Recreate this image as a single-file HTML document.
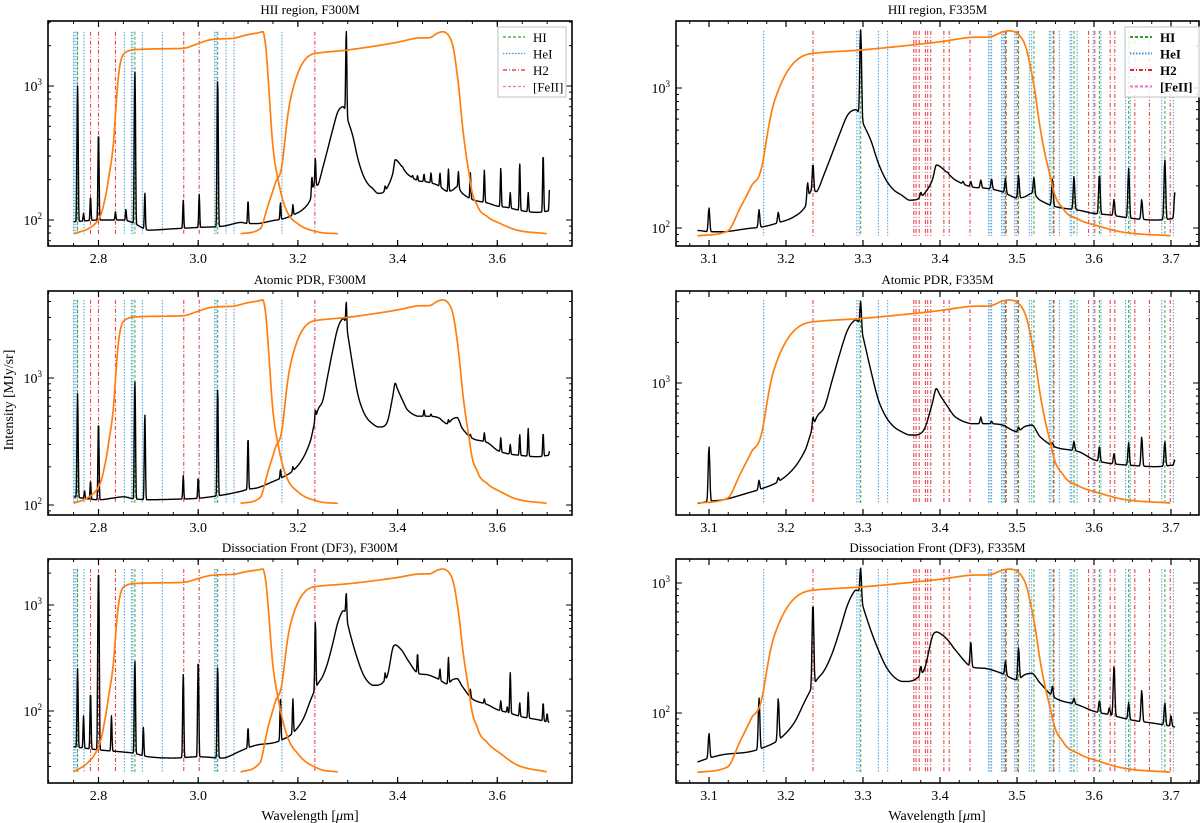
<!DOCTYPE html>
<html><head><meta charset="utf-8">
<style>
html,body{margin:0;padding:0;background:#fff;}
svg{display:block;font-family:"Liberation Serif",serif;}
</style></head>
<body>
<svg id="fig" width="1200" height="823" viewBox="0 0 1200 823" xmlns="http://www.w3.org/2000/svg">
<text x="13" y="400" font-size="14" text-anchor="middle" transform="rotate(-90 13 400)">Intensity [MJy/sr]</text>
</svg>
<script>
// ---- data ----
const contWl = [2.75,2.80,2.85,2.87,2.90,2.95,3.0,3.05,3.085,3.1,3.12,3.15,3.17,3.19,3.21,3.225,3.232,3.24,3.25,3.26,3.27,3.28,3.29,3.295,3.30,3.31,3.32,3.33,3.34,3.35,3.36,3.37,3.38,3.39,3.395,3.40,3.41,3.42,3.44,3.46,3.48,3.50,3.51,3.52,3.53,3.55,3.58,3.60,3.62,3.65,3.68,3.705];
const contHII = [97,100,100,95,84,86,88,90,96,94,94,99,102,109,120,142,182,182,246,341,475,640,700,660,560,425,290,220,187,172,158,160,177,220,282,275,246,220,197,192,182,163,167,177,158,142,134,127,124,117,114,117];
const contPDR = [116,110,116,112,110,111,113,120,128,133,137,153,166,186,233,319,420,560,667,1050,1660,2470,2930,2770,2200,1250,750,560,475,436,412,412,460,707,910,815,667,560,500,500,490,436,475,488,400,335,310,270,254,245,240,247];
const contDF3 = [46,43,41,40,37,36,37,36,42,45,48,50,54,62,83,125,150,180,214,288,435,680,880,860,660,435,305,227,190,175,175,185,220,387,420,410,365,305,227,220,202,180,197,202,170,130,115,103,97,88,83,78];

const lineWlHII = [2.758,2.770,2.784,2.800,2.834,2.855,2.873,2.893,2.970,3.002,3.039,3.100,3.165,3.190,3.228,3.235,3.297,3.375,3.385,3.405,3.410,3.420,3.430,3.440,3.453,3.467,3.485,3.502,3.522,3.546,3.574,3.607,3.626,3.645,3.662,3.692,3.705];
const linePkHII = [1000,112,150,450,115,120,1300,160,140,155,1100,140,135,130,210,290,2600,180,185,260,250,220,215,215,220,225,225,240,230,225,235,245,160,265,160,310,180];
const lineWlPDR = [2.758,2.772,2.784,2.800,2.873,2.893,2.970,3.000,3.039,3.100,3.165,3.190,3.235,3.297,3.405,3.453,3.467,3.485,3.502,3.546,3.574,3.607,3.626,3.645,3.662,3.692,3.705];
const linePkPDR = [750,130,155,450,950,520,170,165,820,340,190,200,560,4000,700,560,520,480,470,360,370,340,300,360,400,370,270];
const lineWlDF3 = [2.758,2.770,2.784,2.800,2.826,2.873,2.890,2.970,3.000,3.039,3.100,3.165,3.190,3.235,3.297,3.375,3.440,3.485,3.502,3.546,3.574,3.607,3.620,3.626,3.645,3.662,3.692,3.700];
const linePkDF3 = [250,90,150,2100,90,300,70,220,300,260,70,130,130,700,1300,230,350,250,320,160,130,125,110,230,120,150,120,95];

const f300Wl = [2.75,2.78,2.80,2.81,2.82,2.83,2.835,2.84,2.845,2.85,2.86,2.87,2.90,2.95,2.975,3.0,3.02,3.04,3.07,3.10,3.12,3.13,3.135,3.14,3.145,3.15,3.16,3.175,3.20,3.24,3.28];
const f300T = [0,0.003,0.009,0.02,0.05,0.12,0.25,0.45,0.6,0.67,0.71,0.725,0.735,0.74,0.75,0.81,0.86,0.88,0.89,0.95,0.98,1.0,0.8,0.45,0.22,0.11,0.05,0.018,0.006,0.001,0];
const f335Wl = [3.085,3.125,3.14,3.155,3.17,3.185,3.205,3.22,3.236,3.297,3.35,3.40,3.44,3.465,3.48,3.49,3.50,3.51,3.52,3.53,3.545,3.56,3.58,3.60,3.64,3.70];
const f335T = [0,0.003,0.02,0.045,0.085,0.29,0.53,0.64,0.68,0.72,0.77,0.83,0.895,0.9,0.975,1.0,0.96,0.8,0.45,0.175,0.05,0.02,0.011,0.007,0.002,0];

const leftHeI = [2.750,2.753,2.757,2.771,2.852,2.866,2.869,2.888,2.928,3.033,3.036,3.056,3.072,3.168];
const leftHI = [2.758,2.873,3.039];
const leftH2 = [2.784,2.800,2.834,2.971,3.002,3.234];
const rightHeI = [3.171,3.292,3.295,3.320,3.332,3.463,3.465,3.467,3.480,3.482,3.484,3.497,3.499,3.516,3.519,3.542,3.544,3.555,3.569,3.571,3.578,3.599,3.609,3.641,3.647,3.688,3.703];
const rightHI = [3.297,3.485,3.502,3.522,3.547,3.574,3.607,3.645,3.692];
const rightH2 = [3.235,3.366,3.369,3.373,3.381,3.384,3.388,3.405,3.412,3.439,3.486,3.501,3.548,3.593,3.601,3.621,3.627,3.653,3.672,3.699];

const xTicksLeft = [2.8,3.0,3.2,3.4,3.6];
const xTickLabelsLeft = ["2.8","3.0","3.2","3.4","3.6"];
const xTicksRight = [3.1,3.2,3.3,3.4,3.5,3.6,3.7];
const xTickLabelsRight = ["3.1","3.2","3.3","3.4","3.5","3.6","3.7"];
const titles = ["HII region, F300M","HII region, F335M","Atomic PDR, F300M","Atomic PDR, F335M","Dissociation Front (DF3), F300M","Dissociation Front (DF3), F335M"];

// ---- layout ----
const NS="http://www.w3.org/2000/svg";
const svg=document.getElementById('fig');
function mk(tag,attrs,parent){const e=document.createElementNS(NS,tag);for(const k in attrs)e.setAttribute(k,attrs[k]);(parent||svg).appendChild(e);return e;}

const rows=[
 {y0:21,y1:246,L:{y1000:86,dec:134,lo:79,hi:2540},R:{y1000:88,dec:140,lo:88,hi:2560},cont:contHII,lw:lineWlHII,lp:linePkHII,name:'hii'},
 {y0:291,y1:515,L:{y1000:378,dec:127,lo:103,hi:4120},R:{y1000:383,dec:135,lo:129,hi:4120},cont:contPDR,lw:lineWlPDR,lp:linePkPDR,name:'pdr'},
 {y0:559,y1:783,L:{y1000:605,dec:106,lo:26.6,hi:2185},R:{y1000:583,dec:130,lo:35,hi:1280},cont:contDF3,lw:lineWlDF3,lp:linePkDF3,name:'df3'}
];
const cols={
 L:{x0:48,x1:572,ref:2.8,rx:98.5,k:498.5,major:xTicksLeft,labels:xTickLabelsLeft,minorStep:0.05},
 R:{x0:676,x1:1199,ref:3.1,rx:709,k:770,major:xTicksRight,labels:xTickLabelsRight,minorStep:0.025}
};

// cubic hermite (Catmull-Rom style) interpolation, used for smooth rendering
function smooth(x,xs,ys){
 const n=xs.length;
 if(x<=xs[0])return ys[0]; if(x>=xs[n-1])return ys[n-1];
 let i=0;while(i<n-2&&x>xs[i+1])i++;
 const h=xs[i+1]-xs[i],t=(x-xs[i])/h;
 const slope=(a,b)=>(ys[b]-ys[a])/(xs[b]-xs[a]);
 const s=slope(i,i+1);
 let m0=i>0?slope(i-1,i+1):s, m1=i<n-2?slope(i,i+2):s;
 // monotone limiting
 if(s===0){m0=0;m1=0;}else{ if(m0*s<=0)m0=0; if(m1*s<=0)m1=0; const a=m0/s,b=m1/s,r=a*a+b*b; if(r>9){const tt=3/Math.sqrt(r);m0=tt*a*s;m1=tt*b*s;} }
 const t2=t*t,t3=t2*t;
 return (2*t3-3*t2+1)*ys[i]+(t3-2*t2+t)*h*m0+(-2*t3+3*t2)*ys[i+1]+(t3-t2)*h*m1;
}
function contAt(x,row){const lg=row.cont.map(v=>Math.log(v));return Math.exp(smooth(x,contWl,lg));}
function spectrum(x,row){
 let v=contAt(x,row);const s=0.0009;
 for(let i=0;i<row.lw.length;i++){const d=x-row.lw[i];if(Math.abs(d)<0.006){const cl=contAt(row.lw[i],row);v+=Math.max(0,row.lp[i]-cl)*Math.exp(-d*d/(2*s*s));}}
 return v;
}

let clipId=0;
function panel(ri,side){
 const row=rows[ri],col=cols[side],ys=row[side];
 const X=l=>col.rx+(l-col.ref)*col.k;
 const Y=v=>ys.y1000-(Math.log10(v)-3)*ys.dec;
 const g=mk('g',{});
 
 
 const cid='clip'+(clipId++);
 const cp=mk('clipPath',{id:cid},g);mk('rect',{x:col.x0,y:row.y0,width:col.x1-col.x0,height:row.y1-row.y0},cp);
 const pg=mk('g',{'clip-path':'url(#'+cid+')'},g);
 const t=mk('text',{x:(col.x0+col.x1)/2,y:row.y0-7,'font-size':13,'text-anchor':'middle'},g);t.textContent=titles[ri*2+(side==='L'?0:1)];
 
 
 const yTop=Y(ys.hi),yBot=Y(ys.lo);
 const sets=side==='L'?[[leftHeI,'#3d94d8','1.5,1.5','heI'],[leftHI,'#2ca02c','3,2','hi'],[leftH2,'#e0262b','4,2,1,2','h2']]:[[rightHeI,'#3d94d8','1.5,1.5','heI'],[rightHI,'#2ca02c','3,2','hi'],[rightH2,'#e0262b','4,2,1,2','h2']];
 for(const [arr,colr,da,nm] of sets){for(const l of arr){const ln=mk('line',{x1:X(l),x2:X(l),y1:yTop,y2:yBot,stroke:colr,'stroke-width':1.1,'stroke-dasharray':da,opacity:0.85},pg);
  
  }}
 const start=side==='L'?2.75:3.085;let pts=[];
 for(let x=start;x<=3.7051;x+=0.0008){pts.push(X(x).toFixed(2)+','+Y(spectrum(x,row)).toFixed(2));}
 const sp=mk('polyline',{points:pts.join(' '),fill:'none',stroke:'#000','stroke-width':1.4,'stroke-linejoin':'round'},pg);
 
 
 const filt=(wl,T,nm)=>{const p=[];for(let l=wl[0];l<=wl[wl.length-1]+1e-9;l+=0.002){const tv=Math.max(0,Math.min(1,smooth(l,wl,T)));p.push(X(l).toFixed(2)+','+Y(ys.lo+tv*(ys.hi-ys.lo)).toFixed(2));}
  const f=mk('polyline',{points:p.join(' '),fill:'none',stroke:'#ff7f0e','stroke-width':1.7,'stroke-linejoin':'round'},pg);
  
  };
 if(side==='L')filt(f300Wl,f300T,'f300m-throughput-curve');
 filt(f335Wl,f335T,'f335m-throughput-curve');
 const fr=mk('rect',{x:col.x0,y:row.y0,width:col.x1-col.x0,height:row.y1-row.y0,fill:'none',stroke:'#000','stroke-width':1.6},g);
 
 
 const lmin=col.ref+(col.x0-col.rx)/col.k,lmax=col.ref+(col.x1-col.rx)/col.k;
 for(let m=Math.ceil(lmin/col.minorStep)*col.minorStep;m<=lmax;m+=col.minorStep){const x=X(m);
  mk('line',{x1:x,x2:x,y1:row.y1,y2:row.y1-3,stroke:'#000','stroke-width':1},g);mk('line',{x1:x,x2:x,y1:row.y0,y2:row.y0+3,stroke:'#000','stroke-width':1},g);}
 col.major.forEach((m,i)=>{const x=X(m);
  mk('line',{x1:x,x2:x,y1:row.y1,y2:row.y1-6,stroke:'#000','stroke-width':1.2},g);mk('line',{x1:x,x2:x,y1:row.y0,y2:row.y0+6,stroke:'#000','stroke-width':1.2},g);
  const tl=mk('text',{x:x,y:row.y1+17,'font-size':14,'text-anchor':'middle'},g);tl.textContent=col.labels[i];
  
  });
 const vmin=Math.pow(10,3-(row.y1-ys.y1000)/ys.dec),vmax=Math.pow(10,3+(ys.y1000-row.y0)/ys.dec);
 for(let d=1;d<=4;d++){for(let k=1;k<10;k++){const v=k*Math.pow(10,d);if(v<vmin||v>vmax)continue;const y=Y(v);const len=k===1?6:3;
  mk('line',{x1:col.x0,x2:col.x0+len,y1:y,y2:y,stroke:'#000','stroke-width':1},g);mk('line',{x1:col.x1,x2:col.x1-len,y1:y,y2:y,stroke:'#000','stroke-width':1},g);
  if(k===1){const tl=mk('text',{x:col.x0-6,y:y+5,'font-size':14,'text-anchor':'end'},g);tl.innerHTML='10<tspan font-size="9" dy="-6">'+d+'</tspan>';
   
   }}}
}
for(let r=0;r<3;r++){panel(r,'L');panel(r,'R');}

for(const cx of [310,937]){const t=mk('text',{x:cx,y:820,'font-size':14,'text-anchor':'middle'});t.innerHTML='Wavelength [<tspan font-style="italic">μ</tspan>m]';
 
 }

function legend(x,y,w,bold){
 const g=mk('g',{});
 
 
 mk('rect',{x:x,y:y,width:w,height:70,fill:'#fff','fill-opacity':0.85,stroke:'#ccc','stroke-width':1.2},g);
 const items=[['HI','#2ca02c','3,2'],['HeI','#3d94d8','1.5,1.5'],['H2','#e0262b','4,2,1,2'],['[FeII]','#e377c2','3,2']];
 items.forEach((it,i)=>{const yy=y+10+i*16.5;
  const e=mk('g',{},g);
  
  
  mk('line',{x1:x+5,x2:x+27,y1:yy,y2:yy,stroke:it[1],'stroke-width':bold?2:1.2,'stroke-dasharray':it[2]},e);
  const t=mk('text',{x:x+35,y:yy+5,'font-size':13,'font-weight':bold?'bold':'normal'},e);t.textContent=it[0];});
}
legend(498,27,68,false);
legend(1125,27,80,true);
</script>
</body></html>
